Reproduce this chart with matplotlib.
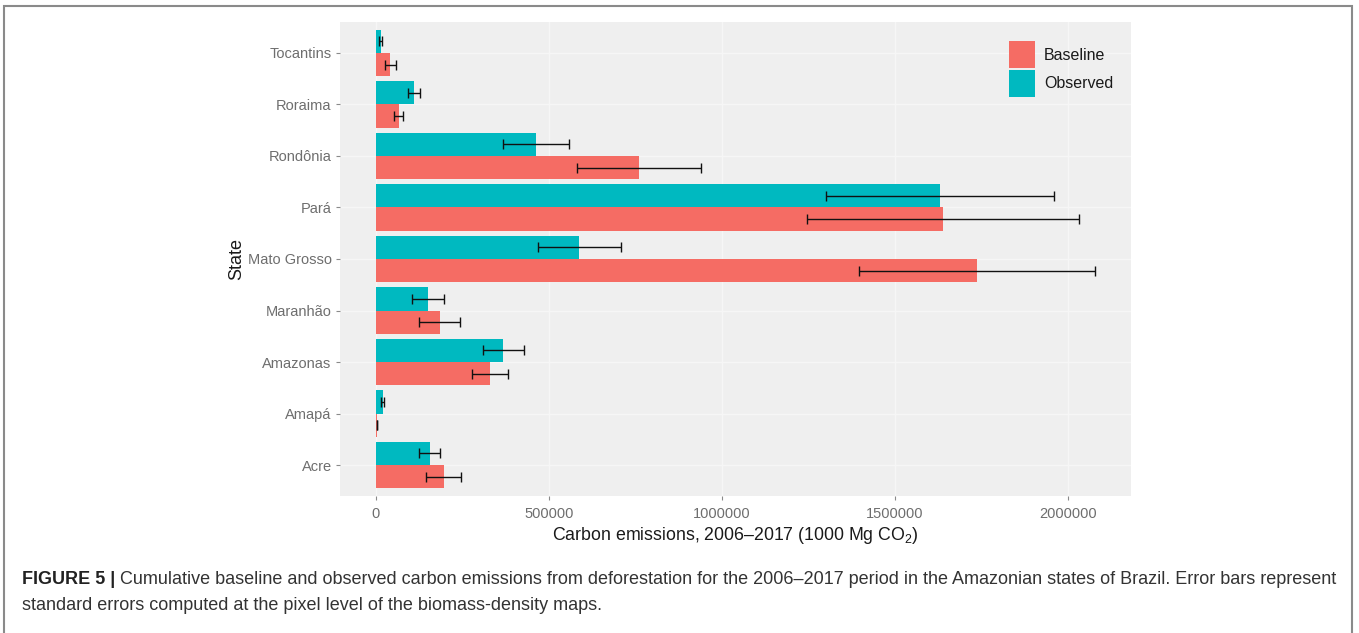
import matplotlib
matplotlib.use("Agg")
import matplotlib.pyplot as plt
from matplotlib.patches import Rectangle
import numpy as np

plt.rcParams['font.family'] = ['Liberation Sans', 'DejaVu Sans']
plt.rcParams['mathtext.fontset'] = 'custom'
plt.rcParams['mathtext.rm'] = 'Liberation Sans'

# ---- data (bottom to top) ----
states = ["Acre", "Amapá", "Amazonas", "Maranhão", "Mato Grosso",
          "Pará", "Rondônia", "Roraima", "Tocantins"]
baseline = [196000, 3000, 330000, 184000, 1737000, 1638000, 760000, 66000, 42000]
baseline_se = [50000, 1000, 52000, 60000, 341000, 393000, 180000, 13000, 17000]
observed = [155000, 19000, 368000, 150000, 587000, 1630000, 463000, 110000, 14000]
observed_se = [31000, 4000, 60000, 47000, 120000, 330000, 95000, 17000, 4000]
xticks = [0, 500000, 1000000, 1500000, 2000000]
xticklabels = ["0", "500000", "1000000", "1500000", "2000000"]

col_base = "#F56C64"
col_obs = "#00B9C0"

W, H = 1359, 633
fig = plt.figure(figsize=(W / 100, H / 100), dpi=100)

def px(x0, y0, x1, y1):
    return [x0 / W, 1 - y1 / H, (x1 - x0) / W, (y1 - y0) / H]

ax = fig.add_axes(px(340, 22, 1131, 496))
ax.set_facecolor("#EFEFEF")
for s in ax.spines.values():
    s.set_visible(False)

y = np.arange(len(states))
h = 0.45
ax.barh(y - h / 2, baseline, height=h, color=col_base, label="Baseline", zorder=2)
ax.barh(y + h / 2, observed, height=h, color=col_obs, label="Observed", zorder=2)
ax.errorbar(baseline, y - h / 2, xerr=baseline_se, fmt="none", ecolor="#111111",
            elinewidth=1.0, capsize=3.5, capthick=1.0, zorder=3)
ax.errorbar(observed, y + h / 2, xerr=observed_se, fmt="none", ecolor="#111111",
            elinewidth=1.0, capsize=3.5, capthick=1.0, zorder=3)

xmax = max(np.array(baseline) + np.array(baseline_se))
pad = 0.05 * xmax
ax.set_xlim(-pad, xmax + pad)
ax.set_ylim(-0.6, len(states) - 0.4)

ax.set_yticks(y)
ax.set_yticklabels(states)
ax.set_xticks(xticks)
ax.set_xticklabels(xticklabels)
ax.tick_params(axis="both", colors="#8A8A8A", labelcolor="#6E6E6E", labelsize=10.5,
               length=3, width=0.8)
ax.tick_params(axis="x", pad=5)
ax.tick_params(axis="y", pad=3)
ax.grid(True, color="#F6F6F6", linewidth=1.0, zorder=0)
ax.set_axisbelow(True)

ax.set_xlabel(r"Carbon emissions, 2006–2017 (1000 Mg CO$_\mathregular{2}$)",
              fontsize=12.8, color="#1A1A1A", labelpad=3)
ax.set_ylabel("State", fontsize=13, color="#1A1A1A", labelpad=2)

leg = ax.legend(loc="upper left", bbox_to_anchor=(1009 / W, 1 - 41 / H),
                bbox_transform=fig.transFigure, frameon=False, fontsize=11.5,
                handlelength=1.6, handleheight=2.25, labelspacing=0.1,
                handletextpad=0.6, borderpad=0, borderaxespad=0)
for t in leg.get_texts():
    t.set_color("#1A1A1A")

# outer frame
fig.add_artist(Rectangle((4 / W, -0.05), (1352 - 4) / W, 1.05 - 6 / H,
                         transform=fig.transFigure, fill=False,
                         edgecolor="#8A8A8A", linewidth=1.5))

# caption
cap_fs = 12.95
t1 = fig.text(22 / W, 1 - 580 / H, "FIGURE 5 |", fontsize=cap_fs, fontweight="bold",
              color="#222222", va="center")
ax.annotate(" Cumulative baseline and observed carbon emissions from deforestation for the "
            "2006–2017 period in the Amazonian states of Brazil. Error bars represent",
            xy=(1, 0.5), xycoords=t1, va="center", ha="left", fontsize=cap_fs,
            color="#333333", annotation_clip=False)
fig.text(22 / W, 1 - 606 / H,
         "standard errors computed at the pixel level of the biomass-density maps.",
         fontsize=cap_fs, color="#333333", va="center")

fig.savefig("out.png", dpi=100)
